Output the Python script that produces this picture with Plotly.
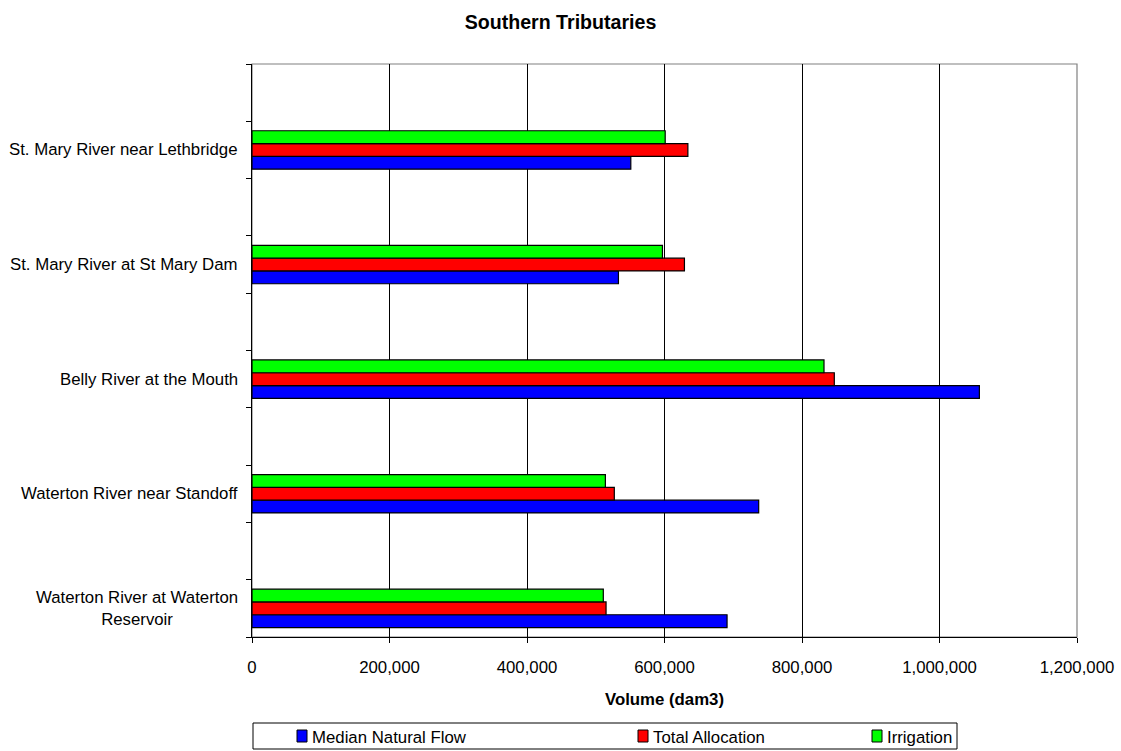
import plotly.graph_objects as go

# Gauging stations, listed top to bottom as they appear on the chart
stations = [
    "St. Mary River near Lethbridge",
    "St. Mary River at St Mary Dam",
    "Belly River at the Mouth",
    "Waterton River near Standoff",
    "Waterton River at Waterton<br>Reservoir",
]

# Annual volumes (dam3)
median_natural_flow = [551000, 533000, 1058000, 737000, 691000]
total_allocation = [634000, 629000, 847000, 527000, 515000]
irrigation = [601000, 597000, 832000, 514000, 511000]

series_names = ["Median Natural Flow", "Total Allocation", "Irrigation"]
series_colors = ["#0000FF", "#FF0000", "#00FF00"]

x_ticks = [0, 200000, 400000, 600000, 800000, 1000000, 1200000]

FONT = "Liberation Sans, Arial, sans-serif"
W, H = 1121, 751
M_L, M_R, M_T, M_B = 252, 44, 64, 114
PLOT_W, PLOT_H = W - M_L - M_R, H - M_T - M_B


def px_x(px):
    """Page pixel column -> paper x."""
    return (px - M_L) / PLOT_W


def px_y(py):
    """Page pixel row -> paper y."""
    return (H - M_B - py) / PLOT_H


n = len(stations)
# each station sits in every other slot of a 2*n slot category axis
y_pos = [2 * (n - 1 - i) + 0.5 for i in range(n)]

fig = go.Figure()
for name, color, values in zip(
    series_names, series_colors,
    [median_natural_flow, total_allocation, irrigation],
):
    fig.add_trace(go.Bar(
        x=values, y=y_pos, orientation="h", name=name,
        marker=dict(color=color, line=dict(color="#000000", width=1.2)),
        showlegend=False,
    ))

# station names beside the slots
for label, yp in zip(stations, y_pos):
    fig.add_annotation(
        x=0, xref="paper", y=yp, yref="y", text=label, showarrow=False,
        xanchor="right", yanchor="middle", xshift=-12, align="center",
        font=dict(family=FONT, size=16.8, color="#000000"),
    )

# plot area frame (top and right edges)
fig.add_shape(type="rect", xref="paper", yref="paper", x0=0, x1=1, y0=0, y1=1,
              line=dict(color="#808080", width=1.2), layer="below")

# legend: framed box with a swatch + name per series
fig.add_shape(type="rect", xref="paper", yref="paper",
              x0=px_x(253), x1=px_x(957), y0=px_y(749), y1=px_y(723),
              line=dict(color="#000000", width=1), fillcolor="rgba(0,0,0,0)")
swatch_left = [297, 638, 872]
for name, color, sx in zip(series_names, series_colors, swatch_left):
    fig.add_shape(type="rect", xref="paper", yref="paper",
                  x0=px_x(sx), x1=px_x(sx + 10), y0=px_y(742), y1=px_y(730),
                  line=dict(color="#000000", width=1), fillcolor=color)
    fig.add_annotation(
        x=px_x(sx + 13), xref="paper", y=px_y(737), yref="paper", text=name,
        showarrow=False, xanchor="left", yanchor="middle",
        font=dict(family=FONT, size=16.8, color="#000000"),
    )

fig.update_layout(
    width=W, height=H,
    margin=dict(l=M_L, r=M_R, t=M_T, b=M_B, autoexpand=False),
    paper_bgcolor="#FFFFFF", plot_bgcolor="#FFFFFF",
    barmode="group", bargap=0.665, bargroupgap=0,
    title=dict(text="<b>Southern Tributaries</b>", x=0.5, xanchor="center",
               y=1 - 22 / H, yanchor="middle",
               font=dict(family=FONT, size=19.6, color="#000000")),
    showlegend=False,
)

fig.update_xaxes(
    range=[0, 1200000], tickvals=x_ticks, tickformat=",",
    showgrid=True, gridcolor="#000000", gridwidth=1,
    showline=True, linecolor="#000000", linewidth=1.2,
    ticks="outside", ticklen=5, tickcolor="#000000", ticklabelstandoff=10,
    tickfont=dict(family=FONT, size=16.8, color="#000000"),
    zeroline=False, automargin=False,
    title=dict(text="<b>Volume (dam3)</b>", standoff=16,
               font=dict(family=FONT, size=16.8, color="#000000")),
)

fig.update_yaxes(
    range=[0, 2 * n], tickvals=list(range(2 * n + 1)),
    ticktext=[""] * (2 * n + 1),
    showgrid=False, zeroline=False, automargin=False,
    showline=True, linecolor="#000000", linewidth=1.2,
    ticks="outside", ticklen=5, tickcolor="#000000",
)

fig.write_html("out.html")
